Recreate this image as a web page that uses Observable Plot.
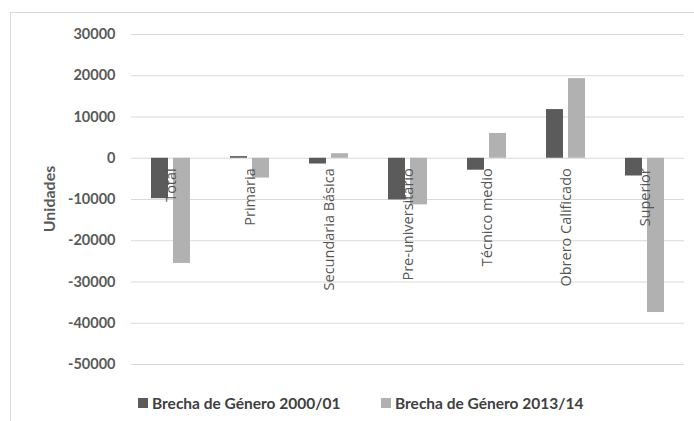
<!DOCTYPE html>
<html>
<head>
<meta charset="utf-8">
<script src="https://cdn.jsdelivr.net/npm/d3@7"></script>
<script src="https://cdn.jsdelivr.net/npm/@observablehq/plot@0.6"></script>
<style>
  html, body { margin: 0; padding: 0; background: #fff; }
  body { width: 694px; height: 421px; overflow: hidden; position: relative; }
  #frame { position: absolute; left: 10px; top: 12px; width: 700px; height: 420px;
           border-left: 1px solid #d9d9d9; border-top: 1px solid #d9d9d9; }
  #chart { position: absolute; left: 0; top: 0; }
  #ylabel { position: absolute; left: 48px; top: 199px; transform: translate(-50%, -50%) rotate(-90deg);
            font: bold 16px Lato, "Open Sans", sans-serif; color: #595959; white-space: nowrap; }
  #legend { position: relative; width: 694px; height: 36px; font: bold 15.5px Lato, sans-serif; color: #404040; }
  .item { position: absolute; top: 18px; transform: translateY(-50%); display: flex; align-items: center; white-space: nowrap; }
  .sw { width: 10px; height: 10px; margin-right: 4px; display: inline-block; }
</style>
</head>
<body>
<div id="frame"></div>
<div id="chart"></div>
<div id="ylabel">Unidades</div>
<script>
const categories = ["Total", "Primaria", "Secundaria Básica", "Pre-universitario", "Técnico medio", "Obrero Calificado", "Superior"];
const series = ["Brecha de Género 2000/01", "Brecha de Género 2013/14"];
const gap2000 = [-9800, 400, -1400, -10100, -2900, 11800, -4300];
const gap2013 = [-25500, -4800, 1100, -11300, 6000, 19300, -37400];
const yTicks = [-50000, -40000, -30000, -20000, -10000, 0, 10000, 20000, 30000];
const colors = ["#5b5b5b", "#b1b1b1"];

const rows = [];
categories.forEach((c, i) => {
  rows.push({cat: c, serie: series[0], value: gap2000[i]});
  rows.push({cat: c, serie: series[1], value: gap2013[i]});
});

const chart = Plot.plot({
  width: 694,
  height: 385,
  marginLeft: 130,
  marginRight: 9,
  marginTop: 34,
  marginBottom: 21,
  style: {background: "transparent", fontFamily: "Lato, sans-serif"},
  fx: {domain: categories, padding: 0, axis: null},
  x: {domain: series, paddingInner: 0.22, paddingOuter: 0.83, axis: null},
  y: {domain: [-50000, 30000]},
  color: {domain: series, range: colors},
  marks: [
    Plot.gridY(yTicks, {stroke: "#d9d9d9", strokeOpacity: 1}),
    Plot.axisY(yTicks, {tickSize: 0, tickPadding: 16, tickFormat: d => String(d), fontSize: 14.5, fontWeight: "bold", fill: "#595959", label: null}),
    Plot.barY(rows, {fx: "cat", x: "serie", y: "value", fill: "serie"}),
    Plot.text(categories, {fx: d => d, y: () => 0, text: d => d, rotate: -90, textAnchor: "end", dy: 10,
      fontSize: 14.5, fill: "#555555", fontFamily: "'Open Sans', sans-serif"})
  ]
});
document.getElementById("chart").appendChild(chart);

const legend = document.createElement("div");
legend.id = "legend";
const lefts = [138, 381];
series.forEach((s, i) => {
  const it = document.createElement("div");
  it.className = "item";
  it.style.left = lefts[i] + "px";
  it.innerHTML = `<span class="sw" style="background:${colors[i]}"></span><span>${s}</span>`;
  legend.appendChild(it);
});
document.getElementById("chart").appendChild(legend);
</script>
</body>
</html>
